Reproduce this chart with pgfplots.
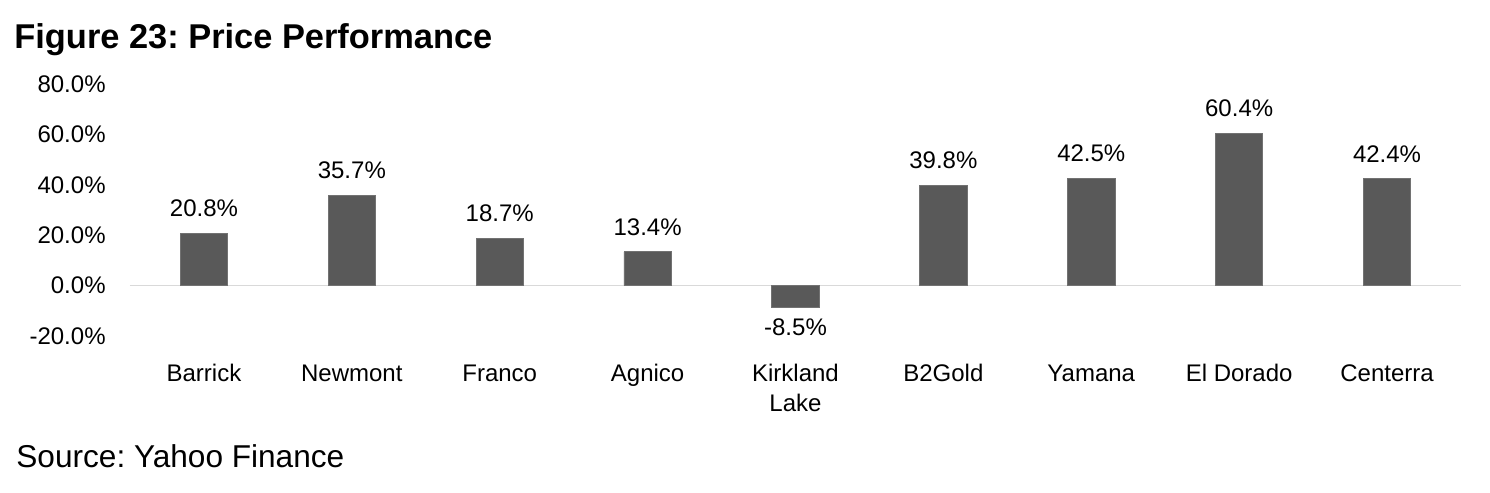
\documentclass[border=0pt]{standalone}
\usepackage{pgfplots}
\pgfplotsset{compat=1.18}
\usepackage{fontspec}
\setmainfont{Liberation Sans}
\frenchspacing
\definecolor{barcol}{HTML}{595959}
\definecolor{zerocol}{HTML}{D9D9D9}
\begin{document}
\begin{tikzpicture}
\path[use as bounding box] (0,0) rectangle (745pt,-246.5pt);
\node[anchor=base west, inner sep=0, font=\fontsize{17.2}{20}\selectfont\bfseries] at (7pt,-24pt) {Figure 23: Price Performance};
\node[anchor=base west, inner sep=0, font=\fontsize{15.8}{18}\selectfont] at (8pt,-233.5pt) {Source: Yahoo Finance};
\begin{axis}[
  at={(65pt,-168pt)}, anchor=south west,
  scale only axis, width=665.5pt, height=126pt,
  xmin=-0.5, xmax=8.5, ymin=-20, ymax=80,
  ybar, bar width=0.32, bar shift=0pt,
  axis line style={draw=none}, tick style={draw=none},
  xtick={0,...,8},
  xticklabels={\strut Barrick,\strut Newmont,\strut Franco,\strut Agnico,{\strut Kirkland\\Lake},\strut B2Gold,\strut Yamana,\strut El Dorado,\strut Centerra},
  xticklabel style={anchor=north, inner sep=0pt, yshift=-8pt, align=center, font=\fontsize{12}{15}\selectfont},
  ytick={-20,0,20,40,60,80},
  yticklabel={\pgfmathprintnumber[fixed,fixed zerofill,precision=1]{\tick}\%},
  yticklabel style={anchor=east, inner sep=0pt, xshift=-12pt, font=\fontsize{12}{14}\selectfont},
  /pgf/number format/assume math mode=true,
  clip=false,
  nodes near coords={\pgfmathprintnumber[fixed,fixed zerofill,precision=1]{\pgfplotspointmeta}\%},
  every node near coord/.append style={font=\fontsize{12}{14}\selectfont, text=black, inner xsep=0pt},
]
\draw[zerocol, line width=0.8pt] (axis cs:-0.5,0) -- (axis cs:8.5,0);
\addplot[fill=barcol, draw=barcol!85!white, line width=0.4pt,
  every node near coord/.append style={inner ysep=8pt}]
  coordinates {(0,20.8) (1,35.7) (2,18.7) (3,13.4) (5,39.8) (6,42.5) (7,60.4) (8,42.4)};
\addplot[fill=barcol, draw=barcol!85!white, line width=0.4pt,
  every node near coord/.append style={inner ysep=5.5pt}]
  coordinates {(4,-8.5)};
\end{axis}
\end{tikzpicture}
\end{document}
